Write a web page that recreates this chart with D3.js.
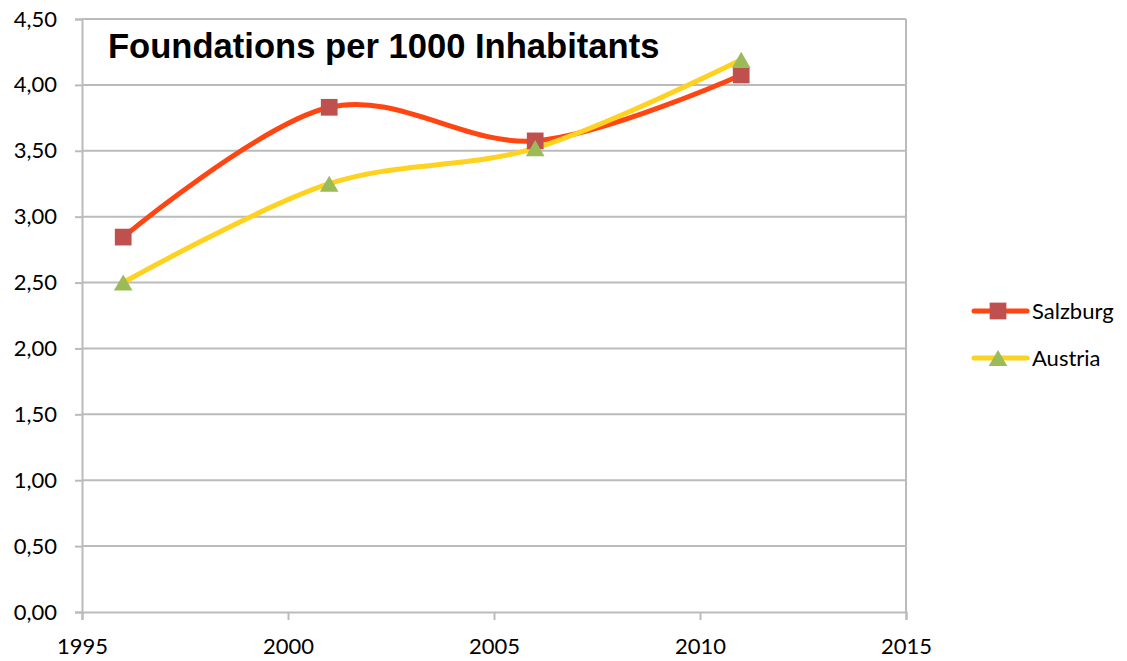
<!DOCTYPE html>
<html>
<head>
<meta charset="utf-8">
<script src="https://cdn.jsdelivr.net/npm/d3@7"></script>
<style>
  html, body { margin: 0; padding: 0; background: #fff; }
  svg { display: block; }
</style>
</head>
<body>
<svg id="chart" width="1127" height="661"></svg>
<script>
// Foundations per 1000 inhabitants, Salzburg vs. Austria
const years = [1996, 2001, 2006, 2011];
const salzburg = [2.845, 3.83, 3.575, 4.075];
const austria = [2.50, 3.25, 3.52, 4.19];
const seriesNames = ["Salzburg", "Austria"];
const xTicks = [1995, 2000, 2005, 2010, 2015];
const yTicks = [0, 0.5, 1, 1.5, 2, 2.5, 3, 3.5, 4, 4.5];

const svg = d3.select("#chart");
const plotLeft = 82, plotRight = 906, plotTop = 19, plotBottom = 612;

const x = d3.scaleLinear().domain([1995, 2015]).range([plotLeft, plotRight]);
const y = d3.scaleLinear().domain([0, 4.5]).range([plotBottom, plotTop]);

const grid = "#BBBBBB";
const labelFont = "Lato, 'Open Sans', sans-serif";
const fmt = v => d3.format(".2f")(v).replace(".", ",");

// horizontal gridlines
svg.append("g").selectAll("line").data(yTicks.slice(1)).join("line")
  .attr("x1", plotLeft).attr("x2", plotRight)
  .attr("y1", d => y(d)).attr("y2", d => y(d))
  .attr("stroke", grid).attr("stroke-width", 2);

// right border
svg.append("line").attr("x1", plotRight).attr("x2", plotRight)
  .attr("y1", plotTop).attr("y2", plotBottom).attr("stroke", grid).attr("stroke-width", 2);

// y axis
const yAxis = svg.append("g").attr("transform", `translate(${plotLeft},0)`)
  .call(d3.axisLeft(y).tickValues(yTicks).tickFormat(fmt).tickSize(7).tickPadding(18));
// x axis
const xAxis = svg.append("g").attr("transform", `translate(0,${plotBottom})`)
  .call(d3.axisBottom(x).tickValues(xTicks).tickFormat(d3.format("d")).tickSize(8).tickPadding(18));

[yAxis, xAxis].forEach(a => {
  a.selectAll("path.domain").attr("stroke", grid).attr("stroke-width", 2);
  a.selectAll(".tick line").attr("stroke", grid).attr("stroke-width", 2);
  a.selectAll("text").attr("fill", "#000").style("font-family", labelFont).style("font-size", "22px");
});

// series lines
const line = d3.line().x(d => x(d[0])).y(d => y(d[1])).curve(d3.curveCardinal.tension(0));
// triangles are shifted so their bounding box (not centroid) sits on the point
const triShift = Math.sqrt(150 * 4 / Math.sqrt(3)) * Math.sqrt(3) / 2 / 6;
const series = [
  { name: seriesNames[0], values: salzburg, lineColor: "#FF4612", markColor: "#C0504D", shape: d3.symbolSquare, size: 280, dy: 0 },
  { name: seriesNames[1], values: austria, lineColor: "#FFD21F", markColor: "#9BBB59", shape: d3.symbolTriangle, size: 150, dy: triShift }
];

series.forEach(s => {
  svg.append("path")
    .datum(years.map((yr, i) => [yr, s.values[i]]))
    .attr("d", line)
    .attr("fill", "none")
    .attr("stroke", s.lineColor)
    .attr("stroke-width", 5)
    .attr("stroke-linecap", "round");
});

series.forEach(s => {
  svg.append("g").selectAll("path").data(years.map((yr, i) => [yr, s.values[i]])).join("path")
    .attr("d", d3.symbol().type(s.shape).size(s.size))
    .attr("transform", d => `translate(${x(d[0])},${y(d[1]) + s.dy})`)
    .attr("fill", s.markColor);
});

// title
svg.append("text").attr("x", 108).attr("y", 58)
  .style("font-family", "'Liberation Sans', Arial, sans-serif")
  .style("font-weight", "bold").style("font-size", "34.6px")
  .text("Foundations per 1000 Inhabitants");

// legend
const legend = svg.append("g");
series.forEach((s, i) => {
  const ly = 311 + i * 47;
  legend.append("line").attr("x1", 974).attr("x2", 1027).attr("y1", ly).attr("y2", ly)
    .attr("stroke", s.lineColor).attr("stroke-width", 5).attr("stroke-linecap", "round");
  legend.append("path").attr("d", d3.symbol().type(s.shape).size(s.size))
    .attr("transform", `translate(998,${ly + s.dy})`).attr("fill", s.markColor);
  legend.append("text").attr("x", 1032).attr("y", ly + 8)
    .style("font-family", labelFont).style("font-size", "22px")
    .text(s.name);
});
</script>
</body>
</html>
